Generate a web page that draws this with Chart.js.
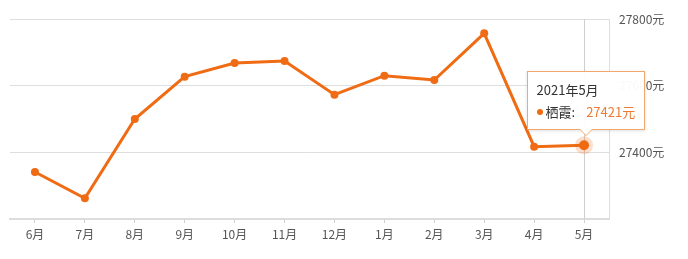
<!DOCTYPE html>
<html>
<head>
<meta charset="utf-8">
<script src="https://cdn.jsdelivr.net/npm/chart.js@4/dist/chart.umd.min.js"></script>
<style>
  html, body { margin: 0; padding: 0; background: #fff; }
  #wrap { position: relative; width: 688px; height: 259px; }
  #tip {
    position: absolute; display: none; box-sizing: border-box;
    background: rgba(255,255,255,0.96); border: 1px solid #f2a76c;
    box-shadow: 0 1px 3px rgba(0,0,0,0.12);
    padding: 8px 9px 7px 9px; white-space: nowrap;
    font-family: "Noto Sans CJK SC", sans-serif; color: #333; pointer-events: none;
  }
  #tip .tt { font-size: 13px; line-height: 20px; margin-bottom: 2px; }
  #tip .tb { font-size: 13px; line-height: 20px; }
  #tip .tb i { display: inline-block; width: 6px; height: 6px; border-radius: 50%; background: #ef6b14; margin-right: 3px; vertical-align: 2px; }
  #tip .tb span { color: #ec7a32; margin-left: 11px; }
  #tip:after, #tip:before {
    content: ""; position: absolute; left: 50%; width: 0; height: 0; border-style: solid;
  }
  #tip:before { bottom: -7px; margin-left: -7px; border-width: 7px 7px 0 7px; border-color: #f2a76c transparent transparent transparent; }
  #tip:after { bottom: -6px; margin-left: -6px; border-width: 6px 6px 0 6px; border-color: #fff transparent transparent transparent; }
</style>
</head>
<body>
<div id="wrap">
  <canvas id="c" width="688" height="259"></canvas>
  <div id="tip"></div>
</div>
<script>
  // ── Data ───────────────────────────────
  const months = ["6月", "7月", "8月", "9月", "10月", "11月", "12月", "1月", "2月", "3月", "4月", "5月"];
  const prices = [27341, 27262, 27500, 27627, 27668, 27674, 27573, 27630, 27617, 27757, 27417, 27421];
  const yTicks = [27200, 27400, 27600, 27800];
  const seriesName = "栖霞";
  const tipYear = "2021年";

  const ORANGE = "#ef6b14";
  const FONT = "'Noto Sans CJK SC', sans-serif";
  const $ = (id) => document.getElementById(id);

  // crosshair for the active point
  const crosshair = {
    id: "crosshair",
    beforeDatasetsDraw(chart) {
      const act = chart.getActiveElements();
      if (!act.length) return;
      const x = Math.round(act[0].element.x) + 0.5;
      const a = chart.chartArea, g = chart.ctx;
      g.save();
      g.strokeStyle = "#cfcfcf";
      g.lineWidth = 1;
      g.beginPath();
      g.moveTo(x, a.top);
      g.lineTo(x, a.bottom);
      g.stroke();
      g.restore();
    }
  };

  function externalTip(ctx) {
    const t = ctx.tooltip, el = $("tip");
    if (t.opacity === 0 || !t.dataPoints || !t.dataPoints.length) { el.style.display = "none"; return; }
    const p = t.dataPoints[0];
    el.innerHTML = '<div class="tt">' + tipYear + p.label + '</div>' +
      '<div class="tb"><i></i>' + seriesName + ':<span>' + p.raw + '元</span></div>';
    el.style.display = "block";
    el.style.left = (t.caretX - el.offsetWidth / 2 + 2) + "px";
    el.style.top = (t.caretY - el.offsetHeight - 15) + "px";
  }

  const chart = new Chart($("c"), {
    type: "line",
    data: {
      labels: months,
      datasets: [{
        label: seriesName,
        data: prices,
        borderColor: ORANGE,
        backgroundColor: ORANGE,
        borderWidth: 3,
        tension: 0,
        pointRadius: 4,
        pointBorderWidth: 0,
        pointHoverRadius: 5,
        pointHoverBackgroundColor: ORANGE,
        pointHoverBorderWidth: 8,
        pointHoverBorderColor: "rgba(239,107,20,0.22)"
      }]
    },
    options: {
      responsive: false,
      animation: false,
      layout: { padding: { left: 10, top: 19, right: 0, bottom: 0 } },
      plugins: {
        legend: { display: false },
        tooltip: { enabled: false, external: externalTip, mode: "index", intersect: false }
      },
      scales: {
        x: {
          offset: true,
          grid: { drawOnChartArea: false, offset: false, tickLength: 4, color: "#cfcfcf" },
          border: { color: "#dcdcdc", width: 2 },
          ticks: { color: "#555", font: { family: FONT, size: 12 }, padding: 4 },
          afterFit: (s) => { s.height = 40; }
        },
        y: {
          position: "right",
          min: yTicks[0],
          max: yTicks[yTicks.length - 1],
          afterBuildTicks: (s) => { s.ticks = yTicks.map(v => ({ value: v })); },
          grid: { color: "#dedede", drawTicks: false },
          border: { color: "#dedede", width: 1 },
          ticks: {
            color: "#555",
            font: { family: FONT, size: 12 },
            padding: 10,
            callback: (v) => v === yTicks[0] ? "" : v + "元"
          },
          afterFit: (s) => { s.width = 79; }
        }
      }
    },
    plugins: [crosshair]
  });

  const last = prices.length - 1;
  const pt = chart.getDatasetMeta(0).data[last];
  chart.setActiveElements([{ datasetIndex: 0, index: last }]);
  chart.tooltip.setActiveElements([{ datasetIndex: 0, index: last }], { x: pt.x, y: pt.y });
  chart.update();
</script>
</body>
</html>
